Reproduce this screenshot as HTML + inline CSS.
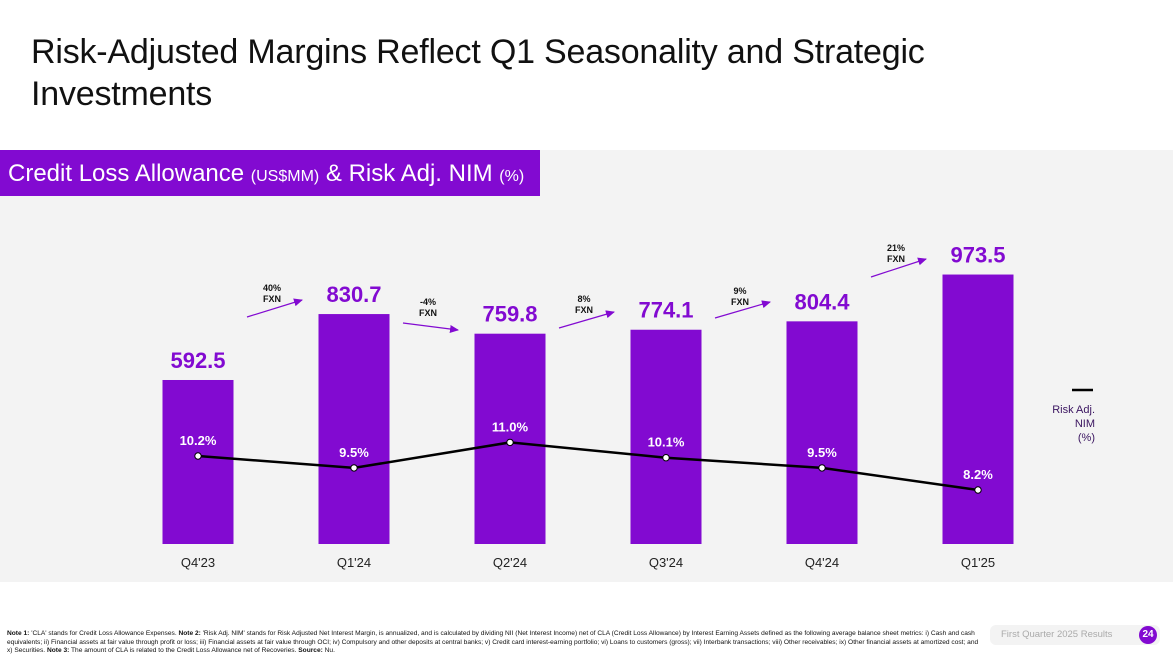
<!DOCTYPE html>
<html><head><meta charset="utf-8">
<style>
body{margin:0;width:1173px;height:660px;background:#fff;font-family:"Liberation Sans",sans-serif;overflow:hidden;position:relative}
#title{position:absolute;left:31px;top:31px;font-size:34px;line-height:42px;color:#111;letter-spacing:-0.2px}
#panel{position:absolute;left:0;top:150px;width:1173px;height:432px;background:#f3f3f3}
#hdr{position:absolute;left:0;top:150px;width:540px;height:46px;background:#820ad1;color:#fff;font-size:24px;line-height:48px;padding-left:8px;box-sizing:border-box;white-space:nowrap}
#hdr small{font-size:16px}
#notes{position:absolute;left:7px;top:630px;width:975px;font-size:6.6px;line-height:8.5px;color:#111}
#footer{position:absolute;left:990px;top:625px;width:170px;height:20px;background:#f3f3f3;border-radius:6px;font-size:9.5px;color:#aaa;line-height:20px;padding-left:11px;box-sizing:border-box}
#pg{position:absolute;left:1139px;top:626px;width:18px;height:18px;border-radius:9px;background:#820ad1;color:#fff;font-size:10px;font-weight:bold;text-align:center;line-height:18px}
svg{position:absolute;left:0;top:0}
</style></head><body>
<div id="title">Risk-Adjusted Margins Reflect Q1 Seasonality and Strategic<br>Investments</div>
<div id="panel"></div>
<div id="hdr">Credit Loss Allowance <small>(US$MM)</small> &amp; Risk Adj. NIM <small>(%)</small></div>
<svg id="chart" width="1173" height="660"></svg>
<div id="notes"><b>Note 1:</b> 'CLA' stands for Credit Loss Allowance Expenses. <b>Note 2:</b> 'Risk Adj. NIM' stands for Risk Adjusted Net Interest Margin, is annualized, and is calculated by dividing NII (Net Interest Income) net of CLA (Credit Loss Allowance) by Interest Earning Assets defined as the following average balance sheet metrics: i) Cash and cash equivalents; ii) Financial assets at fair value through profit or loss; iii) Financial assets at fair value through OCI; iv) Compulsory and other deposits at central banks; v) Credit card interest-earning portfolio; vi) Loans to customers (gross); vii) Interbank transactions; viii) Other receivables; ix) Other financial assets at amortized cost; and x) Securities. <b>Note 3:</b> The amount of CLA is related to the Credit Loss Allowance net of Recoveries. <b>Source:</b> Nu.</div>
<div id="footer">First Quarter 2025 Results</div>
<div id="pg">24</div>
<script>
const categories=["Q4'23","Q1'24","Q2'24","Q3'24","Q4'24","Q1'25"];
const claValues=[592.5,830.7,759.8,774.1,804.4,973.5];
const nimValues=[10.2,9.5,11.0,10.1,9.5,8.2];
const nimLabels=["10.2%","9.5%","11.0%","10.1%","9.5%","8.2%"];
const growthLabels=["40%","-4%","8%","9%","21%"];
const NS="http://www.w3.org/2000/svg";
const svg=document.getElementById('chart');
const base=544, x0=198, step=156, bw=71;
const xS=i=>x0+i*step;
const yBar=v=>base-v*0.2768;
const yNim=v=>456-(v-10.2)*17;
// annotation layout (arrow start/end y, label y) – layout only
const arrowLayout=[[317,300,288],[323,330,302],[328,312,299],[318,302,291],[277,259,248]];
function mk(t,a,p){const e=document.createElementNS(NS,t);for(const k in a)e.setAttribute(k,a[k]);(p||svg).appendChild(e);return e;}
const defs=mk('defs',{});
const m=mk('marker',{id:'ah',markerWidth:9,markerHeight:8,refX:8,refY:4,orient:'auto',markerUnits:'userSpaceOnUse'},defs);
mk('path',{d:'M0,0 L9,4 L0,8 Z',fill:'#820ad1'},m);
claValues.forEach((v,i)=>{
 const r=mk('rect',{x:xS(i)-bw/2,y:yBar(v),width:bw,height:base-yBar(v),fill:'#820ad1'});
 
 
 const t=mk('text',{x:xS(i),y:yBar(v)-12,'text-anchor':'middle','font-size':22,'font-weight':'bold',fill:'#820ad1'});
 t.textContent=v.toFixed(1);
 
 
 const c=mk('text',{x:xS(i),y:567,'text-anchor':'middle','font-size':13,fill:'#222'});
 c.textContent=categories[i];
 
 
});
growthLabels.forEach((g,i)=>{
 const [sy,ey,ly]=arrowLayout[i];
 const xa=xS(i)+49, xb=xS(i+1)-52;
 const ln=mk('line',{x1:xa,y1:sy,x2:xb,y2:ey,stroke:'#820ad1','stroke-width':1.2,'marker-end':'url(#ah)'});
 
 
 const mx=(xS(i)+xS(i+1))/2-4;
 const t=mk('text',{x:mx,y:ly+3,'text-anchor':'middle','font-size':9,'font-weight':'bold',fill:'#111'});
 t.textContent=g;
 
 
 const t2=mk('text',{x:mx,y:ly+14,'text-anchor':'middle','font-size':9,'font-weight':'bold',fill:'#111'});
 t2.textContent='FXN';
 
 
});
const pl=mk('polyline',{points:nimValues.map((v,i)=>xS(i)+','+yNim(v)).join(' '),fill:'none',stroke:'#000','stroke-width':2.5});


nimValues.forEach((v,i)=>{
 const c=mk('circle',{cx:xS(i),cy:yNim(v),r:3.2,fill:'#fff',stroke:'#000','stroke-width':1});
 
 
 const t=mk('text',{x:xS(i),y:yNim(v)-11,'text-anchor':'middle','font-size':13,'font-weight':'bold',fill:'#fff'});
 t.textContent=nimLabels[i];
 
 
});
const lg=mk('line',{x1:1072,y1:390,x2:1093,y2:390,stroke:'#000','stroke-width':2.5});


["Risk Adj.","NIM","(%)"].forEach((s,i)=>{
 const t=mk('text',{x:1095,y:413+i*14,'text-anchor':'end','font-size':11,fill:'#3a1460'});
 t.textContent=s;
 
 
});
</script>
</body></html>
